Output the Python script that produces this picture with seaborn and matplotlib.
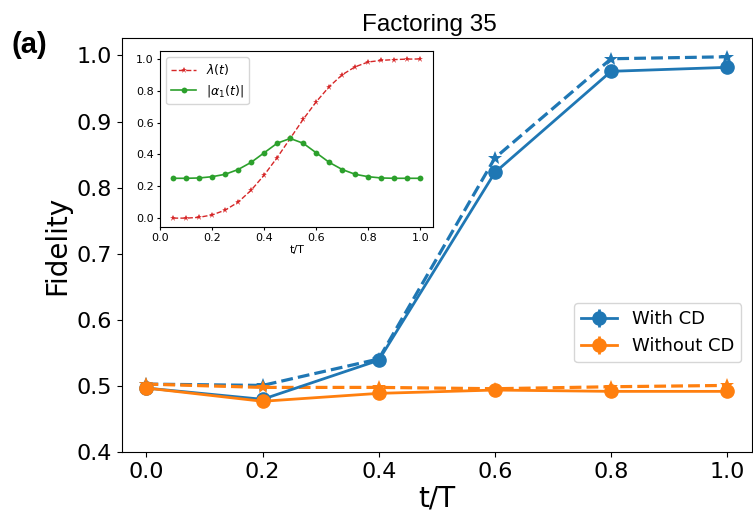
import matplotlib
matplotlib.use("Agg")
import matplotlib.pyplot as plt
import seaborn as sns
import numpy as np

# ---- data ----
x_main = [0.0, 0.2, 0.4, 0.6, 0.8, 1.0]
with_cd = [0.497, 0.480, 0.539, 0.823, 0.976, 0.982]
with_cd_dashed = [0.503, 0.501, 0.541, 0.845, 0.995, 0.998]
without_cd = [0.497, 0.477, 0.489, 0.494, 0.492, 0.492]
without_cd_dashed = [0.503, 0.498, 0.498, 0.496, 0.499, 0.501]
err = [0.004, 0.004, 0.004, 0.004, 0.004, 0.004]

t_inset = [0.05, 0.10, 0.15, 0.20, 0.25, 0.30, 0.35, 0.40, 0.45, 0.50,
           0.55, 0.60, 0.65, 0.70, 0.75, 0.80, 0.85, 0.90, 0.95, 1.00]
lam = [0.0, 0.0, 0.005, 0.02, 0.05, 0.10, 0.175, 0.27, 0.38, 0.50,
       0.62, 0.73, 0.825, 0.90, 0.95, 0.98, 0.99, 0.995, 0.998, 0.999]
alpha1 = [0.25, 0.25, 0.252, 0.26, 0.275, 0.305, 0.35, 0.41, 0.47, 0.50,
          0.47, 0.41, 0.35, 0.305, 0.275, 0.26, 0.252, 0.25, 0.25, 0.25]

blue = "#1f77b4"
orange = "#ff7f0e"

fig = plt.figure(figsize=(7.53, 5.24), dpi=100)
ax = fig.add_axes([0.162, 0.137, 0.837, 0.790])

# dashed lines with stars (seaborn)
sns.lineplot(x=x_main, y=with_cd_dashed, ax=ax, color=blue, linestyle="--",
             marker="*", markersize=10, linewidth=2.3, markeredgewidth=0)
sns.lineplot(x=x_main, y=without_cd_dashed, ax=ax, color=orange, linestyle="--",
             marker="*", markersize=10, linewidth=2.3, markeredgewidth=0)
# solid lines with errorbars
h1 = ax.errorbar(x_main, with_cd, yerr=err, color=blue, marker="o", markersize=9.5,
                 linewidth=2.0, elinewidth=2, label="With CD")
h2 = ax.errorbar(x_main, without_cd, yerr=err, color=orange, marker="o", markersize=9.5,
                 linewidth=2.0, elinewidth=2, label="Without CD")

ax.set_xlim(-0.042, 1.043)
ax.set_ylim(0.4, 1.026)
ax.set_xticks([0.0, 0.2, 0.4, 0.6, 0.8, 1.0])
ax.set_yticks([0.4, 0.5, 0.6, 0.7, 0.8, 0.9, 1.0])
ax.tick_params(labelsize=16)
ax.set_xlabel("t/T", fontsize=20, labelpad=2)
ax.set_ylabel("Fidelity", fontsize=20)
ax.legend(handles=[h1, h2], labels=["With CD", "Without CD"], fontsize=13,
          loc="lower right", bbox_to_anchor=(0.997, 0.195))
ax.set_title("Factoring 35", fontsize=17.5, family=["Liberation Sans", "DejaVu Sans"],
             pad=5, x=0.488)
fig.text(0.015, 0.898, "(a)", fontsize=21, fontweight="bold",
         family=["Liberation Sans", "DejaVu Sans"])

# ---- inset ----
axin = fig.add_axes([0.2125, 0.567, 0.363, 0.336])
sns.lineplot(x=t_inset, y=lam, ax=axin, color="#d62728", linestyle="--", marker="*",
             markersize=5, linewidth=1, markeredgewidth=0, label=r"$\lambda(t)$")
sns.lineplot(x=t_inset, y=alpha1, ax=axin, color="#2ca02c", linestyle="-", marker="o",
             markersize=4.2, linewidth=1.2, markeredgewidth=0, label=r"$|\alpha_1(t)|$")
axin.set_xlim(0.0, 1.05)
axin.set_ylim(-0.055, 1.05)
axin.set_xticks([0.0, 0.2, 0.4, 0.6, 0.8, 1.0])
axin.set_yticks([0.0, 0.2, 0.4, 0.6, 0.8, 1.0])
axin.tick_params(labelsize=8, length=2.5, pad=2)
axin.set_xlabel("t/T", fontsize=8, labelpad=1)
axin.set_ylabel("")
axin.legend(loc="upper left", fontsize=9)

fig.savefig("out.png", dpi=100)
